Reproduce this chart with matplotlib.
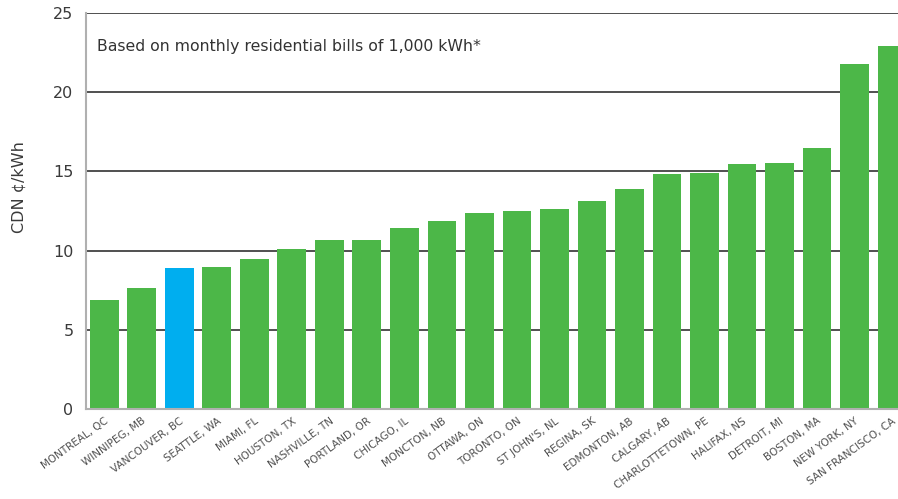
import numpy as np
import matplotlib.pyplot as plt

plt.rcParams["font.family"] = ["DejaVu Sans"]

# 城市与电价 (CDN ¢/kWh)
cities = ["MONTREAL, QC", "WINNIPEG, MB", "VANCOUVER, BC", "SEATTLE, WA", "MIAMI, FL",
          "HOUSTON, TX", "NASHVILLE, TN", "PORTLAND, OR", "CHICAGO, IL", "MONCTON, NB",
          "OTTAWA, ON", "TORONTO, ON", "ST JOHN'S, NL", "REGINA, SK", "EDMONTON, AB",
          "CALGARY, AB", "CHARLOTTETOWN, PE", "HALIFAX, NS", "DETROIT, MI", "BOSTON, MA",
          "NEW YORK, NY", "SAN FRANCISCO, CA"]
rates = [6.9, 7.65, 8.9, 8.97, 9.47, 10.1, 10.65, 10.65, 11.45, 11.85,
         12.4, 12.5, 12.6, 13.15, 13.9, 14.85, 14.9, 15.45, 15.5, 16.5,
         21.75, 22.9]
highlight = "VANCOUVER, BC"
y_ticks = [0, 5, 10, 15, 20, 25]

green = "#4cb748"
blue = "#00aeef"
colors = [blue if c == highlight else green for c in cities]

fig = plt.figure(figsize=(8.98, 4.99), dpi=100)
ax = fig.add_axes([0.0958, 0.1804, 0.9042, 0.7936])

x = np.arange(len(cities))
ax.bar(x, rates, width=0.77, color=colors, zorder=2)

# 网格线
for t in y_ticks[1:]:
    ax.axhline(t, color="#505050", lw=1.4, zorder=1)

ax.set_ylim(0, 25)
ax.set_xlim(-0.49, 21.16)
ax.set_yticks(y_ticks)
ax.tick_params(axis="y", length=0, labelsize=11.5, labelcolor="#3a3a3a", pad=9)
ax.set_xticks(x)
ax.set_xticklabels(cities, rotation=36, ha="right", rotation_mode="anchor",
                   fontsize=7.5, color="#505050")
ax.tick_params(axis="x", length=0, pad=5)

for s in ["top", "right"]:
    ax.spines[s].set_visible(False)
ax.spines["left"].set_color("#b0b0b0")
ax.spines["left"].set_linewidth(1.5)
ax.spines["bottom"].set_color("#b0b0b0")
ax.spines["bottom"].set_linewidth(1.5)

ax.set_ylabel("CDN ¢/kWh", fontsize=11.5, color="#3a3a3a")
ax.yaxis.set_label_coords(-0.073, 0.56)
ax.text(0.013, 0.915, "Based on monthly residential bills of 1,000 kWh*",
        transform=ax.transAxes, fontsize=11.3, color="#333333", va="center")

fig.savefig("out.png", dpi=100)
